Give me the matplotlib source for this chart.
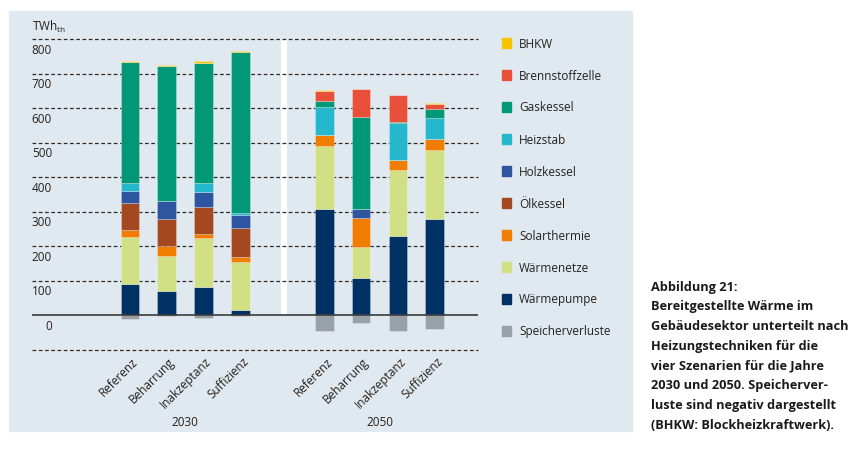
"""
Bereitgestellte Waerme im Gebaeudesektor nach Heizungstechniken
* gestapelte Balken fuer 2030 und 2050, je vier Szenarien
* Speicherverluste negativ
"""

import matplotlib
matplotlib.use("Agg")
import matplotlib.pyplot as plt
import matplotlib.transforms as mtransforms
from matplotlib.patches import Rectangle

plt.rcParams["font.family"] = ["Open Sans", "DejaVu Sans"]

scenarios = ["Referenz", "Beharrung", "Inakzeptanz", "Suffizienz"]
years = ["2030", "2050"]

# stacking order, bottom to top (2030 R, B, I, S, then 2050 R, B, I, S)
waermepumpe = [92, 70, 81, 17, 309, 108, 229, 280]
waermenetze = [136, 103, 142, 139, 180, 91, 193, 200]
solarthermie = [18, 27, 14, 14, 34, 82, 27, 32]
oelkessel = [78, 80, 78, 84, 0, 0, 0, 0]
holzkessel = [35, 51, 42, 38, 0, 26, 0, 0]
heizstab = [23, 0, 25, 5, 80, 0, 107, 58]
gaskessel = [351, 390, 349, 464, 19, 268, 5, 28]
brennstoffzelle = [0, 0, 0, 0, 27, 81, 76, 14]
bhkw = [4, 4, 4, 5, 2, 0, 0, 3]
speicherverluste = [-10, -3, -8, -2, -44, -23, -44, -38]

yticks = [0, 100, 200, 300, 400, 500, 600, 700, 800]

stack = [
    ("Wärmepumpe", waermepumpe, "#003164"),
    ("Wärmenetze", waermenetze, "#d1df85"),
    ("Solarthermie", solarthermie, "#f07c00"),
    ("Ölkessel", oelkessel, "#a3481f"),
    ("Holzkessel", holzkessel, "#2e55a0"),
    ("Heizstab", heizstab, "#25b8cc"),
    ("Gaskessel", gaskessel, "#009877"),
    ("Brennstoffzelle", brennstoffzelle, "#e8503a"),
    ("BHKW", bhkw, "#f7c200"),
]
loss_color = "#97a1a7"
panel_color = "#e1e9f0"

W, H = 861, 456
fig = plt.figure(figsize=(W / 100, H / 100), dpi=100)
fig.patch.set_facecolor("white")

# light blue panel behind the chart
fig.patches.append(Rectangle((9 / W, 1 - 432 / H), 623 / W, 420 / H,
                             transform=fig.transFigure, color=panel_color, zorder=-10))

ax = fig.add_axes([32 / W, 1 - 351 / H, 446 / W, 311 / H])
ax.set_facecolor("none")
ax.set_xlim(-2.663, 9.457)
ax.set_ylim(-100, 800)
for s in ax.spines.values():
    s.set_visible(False)
ax.set_xticks([])
ax.set_yticks([])

positions = [0, 1, 2, 3, 5.28, 6.28, 7.28, 8.28]
width = 0.51

# white separator between the two years
ax.axvspan(4.105, 4.265, ymin=100 / 900, ymax=1, color="white", lw=0, zorder=1)

for v in yticks[1:] + [-100]:
    ax.axhline(v, color="#2b2b2b", lw=0.9, ls=(0, (3, 2)), zorder=1, clip_on=False)
ax.axhline(0, color="#3a3a3a", lw=1.2, zorder=4)

bottom = [0] * len(positions)
for name, vals, col in stack:
    ax.bar(positions, vals, width, bottom=bottom, color=col,
           edgecolor=(1, 1, 1, 0.3), linewidth=0.6, zorder=3)
    bottom = [b + v for b, v in zip(bottom, vals)]
ax.bar(positions, speicherverluste, width, color=loss_color,
       edgecolor=(1, 1, 1, 0.3), linewidth=0.6, zorder=3)

# y labels sit a little below their grid lines
ylab_tr = mtransforms.offset_copy(ax.get_yaxis_transform(), fig, x=0, y=-10, units="dots")
for v in yticks:
    ax.text(0.045, v, str(v), transform=ylab_tr, ha="right", va="center",
            fontsize=8.5, color="#222222")

fig.text(32 / W, 1 - 31 / H, r"TWh$_\mathregular{th}$", ha="left", va="baseline",
         fontsize=8.5, color="#222222")

xlab_tr = mtransforms.offset_copy(ax.transData, fig, x=6, y=-9, units="dots")
for i, p in enumerate(positions):
    ax.text(p, -100, scenarios[i % 4], transform=xlab_tr, rotation=45,
            rotation_mode="anchor", ha="right", va="center", fontsize=8.5, color="#222222")

year_tr = mtransforms.offset_copy(ax.transData, fig, x=0, y=-72, units="dots")
ax.text(sum(positions[:4]) / 4, -100, years[0], transform=year_tr, ha="center",
        va="center", fontsize=8.5, color="#222222")
ax.text(sum(positions[4:]) / 4, -100, years[1], transform=year_tr, ha="center",
        va="center", fontsize=8.5, color="#222222")

# legend, top entry first
legend_items = [(n, c) for n, _, c in stack[::-1]] + [("Speicherverluste", loss_color)]
for k, (name, col) in enumerate(legend_items):
    yc = 44 + k * 32.0
    fig.patches.append(Rectangle((501.5 / W, 1 - (yc + 4.6) / H), 9.3 / W, 9.3 / H,
                                 transform=fig.transFigure, color=col, zorder=2))
    fig.text(519 / W, 1 - yc / H, name, ha="left", va="center", fontsize=8.5,
             color="#222222")

caption = ["Abbildung 21:",
           "Bereitgestellte Wärme im",
           "Gebäudesektor unterteilt nach",
           "Heizungstechniken für die",
           "vier Szenarien für die Jahre",
           "2030 und 2050. Speicherver-",
           "luste sind negativ dargestellt",
           "(BHKW: Blockheizkraftwerk)."]
for k, line in enumerate(caption):
    fig.text(651 / W, 1 - (287 + k * 19.8) / H, line, ha="left", va="center",
             fontsize=9.2, fontweight="bold", color="#1a1a1a")

fig.savefig("out.png", dpi=100)
